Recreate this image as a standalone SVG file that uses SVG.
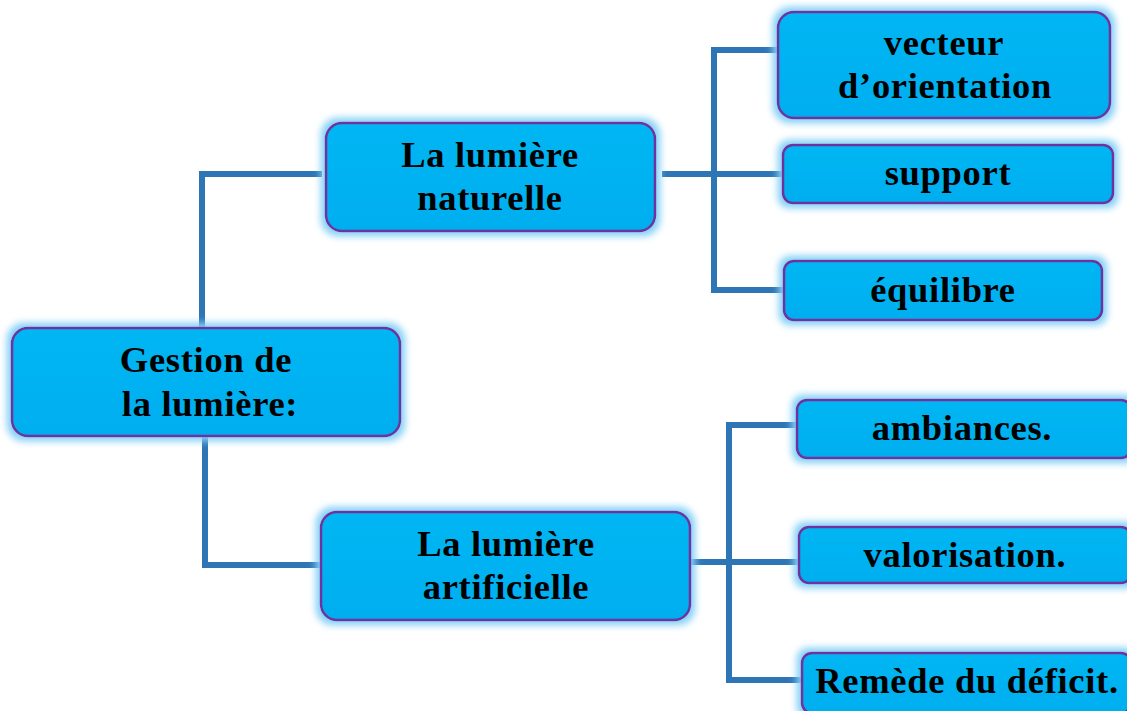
<svg xmlns="http://www.w3.org/2000/svg" width="1127" height="711" viewBox="0 0 1127 711">
<defs>
<linearGradient id="fillg" x1="0" y1="0" x2="0" y2="1">
<stop offset="0" stop-color="#06B6F3"/>
<stop offset="1" stop-color="#00AEEF"/>
</linearGradient>
<filter id="glow" x="-10%" y="-30%" width="120%" height="160%">
<feMorphology in="SourceAlpha" operator="dilate" radius="4" result="d"/>
<feGaussianBlur in="d" stdDeviation="3.5" result="b"/>
<feFlood flood-color="#86D0F6" flood-opacity="1"/>
<feComposite in2="b" operator="in" result="g"/>
<feMerge><feMergeNode in="g"/><feMergeNode in="SourceGraphic"/></feMerge>
</filter>
</defs>
<style>
.box{fill:url(#fillg);stroke:#7030A0;stroke-width:2.5;filter:url(#glow)}
.t{font-family:"Liberation Serif","Times New Roman",serif;font-weight:bold;font-size:36.5px;fill:#000;text-anchor:middle;letter-spacing:0.7px}
.c{fill:none;stroke:#2E75B6;stroke-width:6;stroke-linecap:butt;stroke-linejoin:miter}
</style>
<rect width="1127" height="711" fill="#FFFFFF"/>
<g id="connectors">
<polyline class="c" points="202,330 202,174 322,174"/>
<polyline class="c" points="205,436 205,565 326,565"/>
<line class="c" x1="662" y1="174" x2="782" y2="174"/>
<polyline class="c" points="780,50 714,50 714,290 784,290"/>
<line class="c" x1="690" y1="562" x2="799" y2="562"/>
<polyline class="c" points="797,425 729,425 729,680 802,680"/>
</g>
<g id="root">
<rect class="box" x="12" y="328" width="388" height="108" rx="16"/>
<text class="t" x="206" y="372">Gestion de</text>
<text class="t" x="210" y="416">la lumière:</text>
</g>
<g id="naturelle">
<rect class="box" x="326" y="123" width="329" height="108" rx="16"/>
<text class="t" x="490" y="167">La lumière</text>
<text class="t" x="490" y="210">naturelle</text>
</g>
<g id="artificielle">
<rect class="box" x="321" y="512" width="369" height="108" rx="16"/>
<text class="t" x="506" y="556">La lumière</text>
<text class="t" x="506" y="599">artificielle</text>
</g>
<g id="vecteur">
<rect class="box" x="778" y="12" width="332" height="106" rx="16"/>
<text class="t" x="944" y="55">vecteur</text>
<text class="t" x="945" y="98">d’orientation</text>
</g>
<g id="support">
<rect class="box" x="783" y="145" width="330" height="58" rx="10"/>
<text class="t" x="948" y="185">support</text>
</g>
<g id="equilibre">
<rect class="box" x="784" y="261" width="318" height="59" rx="10"/>
<text class="t" x="943" y="302">équilibre</text>
</g>
<g id="ambiances">
<rect class="box" x="797" y="400" width="334" height="58" rx="10"/>
<text class="t" x="962" y="440">ambiances.</text>
</g>
<g id="valorisation">
<rect class="box" x="799" y="527" width="332" height="56" rx="10"/>
<text class="t" x="965" y="567">valorisation.</text>
</g>
<g id="remede">
<rect class="box" x="802" y="653" width="329" height="60" rx="10"/>
<text class="t" x="967" y="693">Remède du déficit.</text>
</g>
</svg>
